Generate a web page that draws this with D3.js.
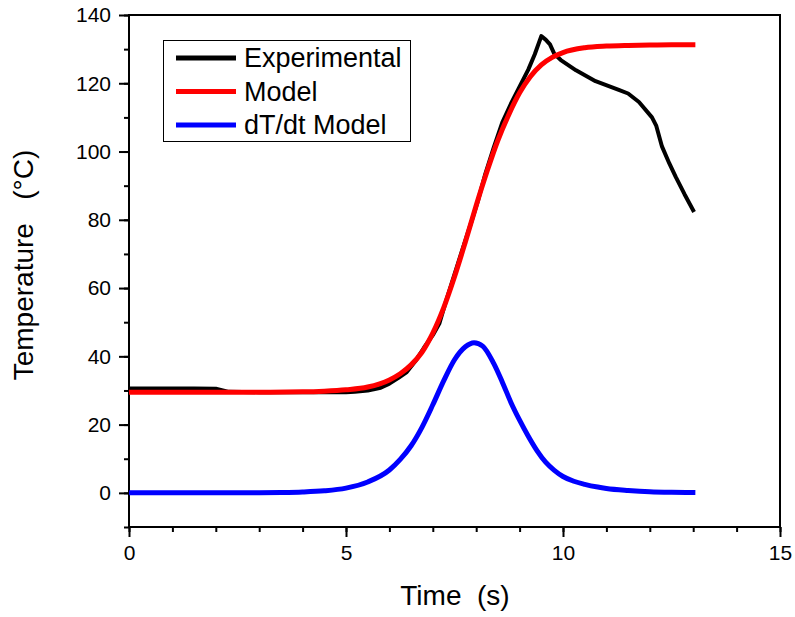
<!DOCTYPE html>
<html>
<head>
<meta charset="utf-8">
<script src="https://cdn.jsdelivr.net/npm/d3@7"></script>
<style>
  body { margin: 0; background: #fff; }
  svg { display: block; font-family: "Liberation Sans", Arial, sans-serif; }
</style>
</head>
<body>
<svg id="chart"></svg>
<script>
var W = 795, H = 617,
  LEFT = 129, RIGHT = 780, TOP = 15, BOTTOM = 527;

// experimental curve
var expTime = [0, 0.5, 1, 1.5, 2.0, 2.3, 3, 4, 5, 5.2, 5.5, 5.8, 6.0, 6.2, 6.4, 6.6, 6.8, 7.0, 7.15, 7.3, 7.5, 7.7, 7.9, 8.05, 8.2, 8.4, 8.6, 8.8, 9.0, 9.2, 9.35, 9.5, 9.6, 9.7, 9.8, 9.95, 10.3, 10.75, 11.3, 11.5, 11.75, 12.05, 12.15, 12.28, 12.45, 12.6, 12.8, 13.02];
var expTemp = [30.6, 30.6, 30.6, 30.6, 30.5, 29.6, 29.5, 29.5, 29.5, 29.6, 30.0, 30.8, 32.0, 33.6, 35.4, 38.6, 42.6, 46.2, 49.6, 56.0, 64.0, 72.0, 79.8, 86.0, 93, 101, 108.5, 114, 119, 124, 128.5, 133.8, 132.8, 131.4, 128.6, 126.8, 123.8, 120.6, 118, 117, 114.5, 110, 107.5, 101.5, 96.5, 92.5, 87.5, 82.3];

// model curve
var modelTime = [0, 1, 2, 3, 4, 4.5, 5, 5.5, 6.0, 6.25, 6.5, 6.75, 7.0, 7.25, 7.5, 7.75, 8.0, 8.25, 8.5, 8.75, 9.0, 9.25, 9.5, 9.75, 10, 10.5, 11, 11.5, 12, 12.5, 13.05];
var modelTemp = [29.5, 29.5, 29.5, 29.5, 29.6, 29.8, 30.2, 31.0, 33.1, 34.9, 37.5, 41.2, 46.8, 54.2, 63.3, 73.5, 84.2, 94.2, 103.3, 110.8, 117.2, 122.0, 125.4, 127.6, 129.0, 130.4, 130.9, 131.1, 131.2, 131.3, 131.3];

// dT/dt model
var rateTime = [0, 1, 2, 3, 3.5, 4.0, 4.5, 5.0, 5.5, 6.0, 6.25, 6.5, 6.75, 7.0, 7.25, 7.5, 7.75, 7.95, 8.15, 8.4, 8.6, 8.8, 9.0, 9.2, 9.4, 9.6, 9.8, 10, 10.25, 10.5, 10.8, 11, 11.5, 12, 12.5, 13.05];
var rateVal = [0, 0, 0, 0.04, 0.1, 0.25, 0.6, 1.4, 3.2, 6.7, 9.8, 13.8, 19.2, 25.8, 32.8, 39.0, 42.8, 44.0, 43.0, 38.0, 32.5, 26.5, 21.3, 16.6, 12.4, 9.0, 6.6, 4.8, 3.4, 2.5, 1.7, 1.3, 0.7, 0.3, 0.15, 0.1];

var xTicks = [0, 5, 10, 15];
var yTicks = [0, 20, 40, 60, 80, 100, 120, 140];
var legendNames = ["Experimental", "Model", "dT/dt Model"];
var legendColors = ["#000000", "#ff0000", "#0000ff"];

var svg = d3.select('#chart').attr('width', W).attr('height', H);

var x = d3.scaleLinear().domain([0, 15]).range([LEFT, RIGHT]);
var y = d3.scaleLinear().domain([-10, 140]).range([BOTTOM, TOP]);

// frame
svg.append('rect')
  .attr('x', LEFT).attr('y', TOP)
  .attr('width', RIGHT - LEFT).attr('height', BOTTOM - TOP)
  .attr('fill', 'none').attr('stroke', '#000').attr('stroke-width', 2);

// minor + major ticks
var gx = svg.append('g').attr('transform', 'translate(0,' + BOTTOM + ')');
gx.call(d3.axisBottom(x).tickValues(d3.range(0, 16, 1)).tickSize(5).tickFormat(''));
gx.append('g').call(d3.axisBottom(x).tickValues(xTicks).tickSize(10).tickPadding(8).tickFormat(d3.format('d')));
gx.selectAll('.domain').remove();
gx.selectAll('line').attr('stroke', '#000').attr('stroke-width', 2);
gx.selectAll('text').attr('font-size', 21).attr('fill', '#000').attr('font-family', '"Liberation Sans", Arial, sans-serif');

var gy = svg.append('g').attr('transform', 'translate(' + LEFT + ',0)');
gy.call(d3.axisLeft(y).tickValues(d3.range(-10, 141, 10)).tickSize(5).tickFormat(''));
gy.append('g').call(d3.axisLeft(y).tickValues(yTicks).tickSize(10).tickPadding(8).tickFormat(d3.format('d')));
gy.selectAll('.domain').remove();
gy.selectAll('line').attr('stroke', '#000').attr('stroke-width', 2);
gy.selectAll('text').attr('font-size', 21).attr('fill', '#000').attr('font-family', '"Liberation Sans", Arial, sans-serif');

// lines
function series(tt, vv) {
  return tt.map(function(t, i) { return [t, vv[i]]; });
}
var line = d3.line().x(function(d) { return x(d[0]); }).y(function(d) { return y(d[1]); });
var smooth = d3.line().curve(d3.curveMonotoneX).x(function(d) { return x(d[0]); }).y(function(d) { return y(d[1]); });

svg.append('path').datum(series(expTime, expTemp))
  .attr('d', line).attr('fill', 'none').attr('stroke', legendColors[0])
  .attr('stroke-width', 4).attr('stroke-linejoin', 'round');
svg.append('path').datum(series(modelTime, modelTemp))
  .attr('d', smooth).attr('fill', 'none').attr('stroke', legendColors[1])
  .attr('stroke-width', 5);
svg.append('path').datum(series(rateTime, rateVal))
  .attr('d', smooth).attr('fill', 'none').attr('stroke', legendColors[2])
  .attr('stroke-width', 5);

// legend
var lg = svg.append('g');
lg.append('rect').attr('x', 163.5).attr('y', 40.5).attr('width', 247).attr('height', 101)
  .attr('fill', '#fff').attr('stroke', '#000').attr('stroke-width', 1);
legendNames.forEach(function(name, i) {
  var yy = 58 + i * 33.5;
  lg.append('line').attr('x1', 176).attr('x2', 236).attr('y1', yy).attr('y2', yy)
    .attr('stroke', legendColors[i]).attr('stroke-width', 5);
  lg.append('text').attr('x', 244).attr('y', yy + 9).attr('font-size', 27).text(name);
});

// axis titles
svg.append('text').attr('x', 455).attr('y', 605).attr('text-anchor', 'middle')
  .attr('font-size', 28).attr('xml:space', 'preserve').text('Time  (s)');
svg.append('text').attr('transform', 'translate(33,' + 265 + ') rotate(-90)')
  .attr('text-anchor', 'middle').attr('font-size', 28)
  .attr('xml:space', 'preserve').text('Temperature   (°C)');
</script>
</body>
</html>
